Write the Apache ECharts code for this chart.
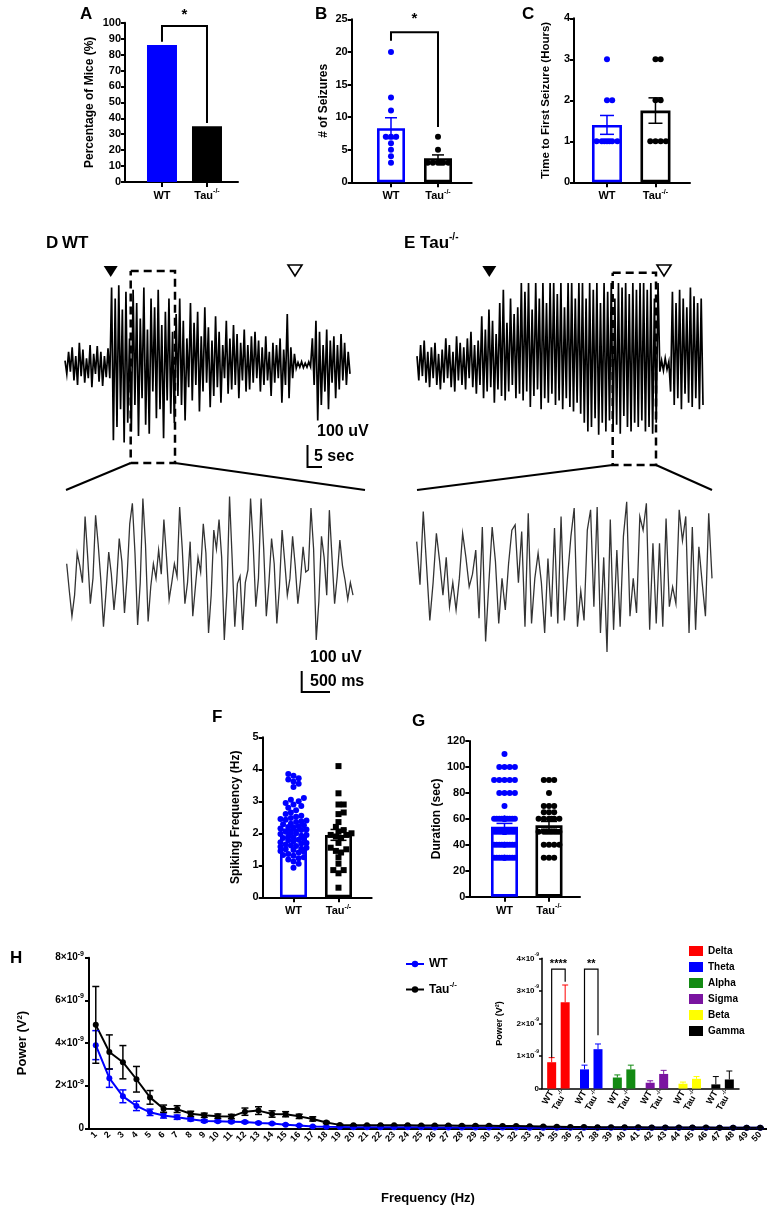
<!DOCTYPE html>
<html>
<head>
<meta charset="utf-8">
<script src="https://cdn.jsdelivr.net/npm/echarts@6/dist/echarts.min.js"></script>
<style>html,body{margin:0;padding:0;background:#fff}#main{width:767px;height:1222px}</style>
</head>
<body>
<div id="main"></div>
<script>
// ---- data ----
const groups = ['WT', 'Tau']
const seizurePct = [86, 35]

const seizureMean = [8.3, 3.7]
const seizureSem = [1.6, 0.5]
const seizuresWt = [20, 13, 11, 7, 7, 7, 6, 5, 4, 3]
const seizuresTau = [7, 5, 3, 3, 3, 3, 3, 3]

const firstMean = [1.4, 1.75]
const firstSem = [0.23, 0.31]
const firstWt = [3, 2, 2, 1, 1, 1, 1, 1, 1, 1]
const firstTau = [3, 3, 2, 2, 1, 1, 1, 1]

const spikeMean = [2.15, 1.95]
const spikeSem = [0.08, 0.17]
const spikeWt = [3.85, 3.8, 3.72, 3.68, 3.62, 3.55, 3.45, 3.1, 3.05, 3.0, 2.95, 2.9, 2.85, 2.8, 2.72, 2.65, 2.6, 2.55, 2.52, 2.48,
  2.45, 2.42, 2.4, 2.38, 2.35, 2.3, 2.28, 2.25, 2.22, 2.2, 2.18, 2.15, 2.12, 2.1, 2.05, 2.02, 2.0, 1.98, 1.95, 1.92,
  1.9, 1.88, 1.85, 1.82, 1.8, 1.78, 1.75, 1.72, 1.7, 1.68, 1.65, 1.62, 1.6, 1.58, 1.55, 1.52, 1.5, 1.48, 1.45, 1.42,
  1.4, 1.35, 1.32, 1.3, 1.25, 1.22, 1.18, 1.12, 1.05, 0.92]
const spikeTau = [4.1, 3.25, 2.9, 2.9, 2.65, 2.6, 2.35, 2.2, 2.1, 2.05, 2.0, 1.95, 1.95, 1.9, 1.85, 1.7, 1.55, 1.5, 1.45, 1.4,
  1.25, 1.05, 0.85, 0.85, 0.75, 0.3]

const durMean = [54, 55]
const durSem = [2.5, 3]
const durWt = [110, 100, 100, 100, 100, 90, 90, 90, 90, 90, 80, 80, 80, 80, 70,
  60, 60, 60, 60, 60, 60, 60, 60, 60, 60, 60, 60, 60, 60,
  50, 50, 50, 50, 50, 50, 50, 50, 50, 50, 50, 50, 50, 50, 50, 50,
  40, 40, 40, 40, 40, 40, 40, 40, 40, 40,
  30, 30, 30, 30, 30, 30, 30, 30, 30, 30, 30]
const durTau = [90, 90, 90, 80, 70, 70, 70, 65, 65, 65, 60, 60, 60, 60, 60, 60,
  50, 50, 50, 50, 50, 50, 50, 50, 40, 40, 40, 40, 30, 30, 30]

// EEG traces (uV, peaks/troughs)
const traceWt = [20, -40, 60, -30, 80, -70, 40, -90, 100, -50, 70, -80, 30, -60, 90, -100, 50, -40, 85, -75, 60, -95, 40, -55, 75, -60,
  350, -340, 300, -280, 360, -200, 250, -350, 330, -260, 120, -300, 340, -180, 280, -320, 210, -150, 350, -270, 160, -310, 300, -120, 260, -240, 340, -200, 180, -330, 240, -160, 300, -220, 150, -260, 230,
  -140, 300, -180, 200, -250, 120, -100, 280, -160, 190, -90, 240, -210, 130, -120, 260, -80, 170, -190, 110, -140, 220, -100, 150, -170, 90, -60, 200, -130, 120, -110, 180, -90, 140, -150, 100, -70, 160, -120, 90, -110, 130, -80,
  150, -60, 110, -120, 80, -90, 130, -70, 60, -140, 100, -80, 90, -60, 120, -170, 70, -90, 230, -150, 80, -60, 50,
  -15, 12, -10, 15, -12, 8, -10, 14, -8,
  120, -90, 200, -250, 150, -180, 90, -120, 160, -200, 110, -80, 130, -150, 90, -110, 140, -70, 100, -90, 60, -40]
const traceTau = [40, -70, 90, -50, 110, -80, 60, -100, 80, -60, 100, -90, 50, -110, 70, -80, 120, -60, 90, -100, 60, -120, 130, -70, 100, -90, 80, -110, 120, -60, 150, -100, 90, -130, 110,
  -90, 220, -150, 160, -120, 250, -100, 200, -170, 140, -110, 280, -140, 340, -160, 190, -120, 300, -90, 230, -150, 260, -130,
  370, -160, 330, -120, 370, -190, 250, -140, 370, -110, 300, -200, 370, -150, 280, -170, 370, -130, 370, -180, 320, -160, 370, -200, 260, -150, 370, -190, 370, -210, 300, -170, 370, -220,
  370, -260, 300, -300, 370, -280, 340, -240, 370, -315, 280, -260, 370, -300, 330, -250, 370, -290, 300, -270, 370, -310, 350, -230, 370, -280, 320, -300, 370, -260, 340, -280, 370, -250,
  370, -300, 340, -280, 370, -310, 300, -260, 370,
  -30, 20, -25, 30, -20, 15,
  -120, 330, -180, 280, -150, 340, -200, 300, -130, 260, -170, 350, -190, 310, -150, 280, -200, 300, -180]
const zoomWt = [30, -100, -220, -120, 80, 20, -60, 255, 60, -160, -40, 260, 120, -50, -270, -100, 85, -20, -190, -60,
  150, 40, -205, -30, 220, 318, 80, -262, -60, 340, 120, -245, -80, 30, -40, 95, -20, 240, 60, -140,
  -60, 30, -30, 300, 100, -160, -60, 135, -220, -80, 60, -10, 220, 80, -300, -120, 190, 100, 240, 60,
  -333, -100, 350, 50, -270, -65, -30, -285, -60, 0, 340, 120, -175, -40, 340, 100, -220, -60, 150, 30,
  -255, -80, 190, 40, -120, -40, 160, 20, -160, -50, 110, -10, 0, 295, 100, -333, -150, 160, 60, -120,
  285, 60, -160, -30, 143, 20, -50, -140, -60, -120]
const zoomTau = [135, -70, 278, 20, -240, -60, 175, 40, -120, 60, -175, -60, -190, -40, 175, 60, -80, -20, 95, -230,
  205, -340, -60, 205, 40, -255, -40, -190, 30, 190, 215, -60, 183, -270, 270, -255, -40, 80, -60, -300,
  55, -222, 200, -255, 255, -240, -30, 160, 295, -270, -100, -240, 190, 287, -175, 300, -300, 60, -390, 240,
  -285, 95, -270, 160, 325, -220, -40, -205, 255, 190, 318, -285, 127, -255, 127, -270, 245, -175, -80, -160,
  287, 140, 255, -300, 205, -285, 110, -60, -220, 270, -40]

// power spectrum, units of 1e-9 V^2
const freqs = [1, 2, 3, 4, 5, 6, 7, 8, 9, 10, 11, 12, 13, 14, 15, 16, 17, 18, 19, 20, 21, 22, 23, 24, 25,
  26, 27, 28, 29, 30, 31, 32, 33, 34, 35, 36, 37, 38, 39, 40, 41, 42, 43, 44, 45, 46, 47, 48, 49, 50]
const powerWt = [3.9, 2.35, 1.5, 1.05, 0.75, 0.6, 0.52, 0.42, 0.34, 0.33, 0.31, 0.29, 0.25, 0.22, 0.17, 0.13, 0.09, 0.07, 0.06, 0.05,
  0.05, 0.05, 0.05, 0.05, 0.05, 0.04, 0.04, 0.04, 0.04, 0.04, 0.04, 0.04, 0.03, 0.03, 0.03, 0.03, 0.03, 0.03, 0.03, 0.03,
  0.03, 0.03, 0.03, 0.03, 0.03, 0.02, 0.02, 0.02, 0.02, 0.02]
const semWt = [0.68, 0.43, 0.3, 0.22, 0.15, 0.12, 0.1, 0.07, 0.06, 0.05, 0.05, 0.05, 0.04, 0.04, 0.03, 0.03, 0.02, 0.02, 0.02, 0.02,
  0.01, 0.01, 0.01, 0.01, 0.01, 0.01, 0.01, 0.01, 0.01, 0.01, 0.01, 0.01, 0.01, 0.01, 0.01, 0.01, 0.01, 0.01, 0.01, 0.01,
  0.01, 0.01, 0.01, 0.01, 0.01, 0.01, 0.01, 0.01, 0.01, 0.01]
const powerTau = [4.85, 3.58, 3.1, 2.3, 1.45, 0.92, 0.9, 0.68, 0.61, 0.57, 0.55, 0.78, 0.83, 0.67, 0.66, 0.56, 0.44, 0.27, 0.16, 0.14,
  0.14, 0.14, 0.14, 0.14, 0.13, 0.13, 0.13, 0.12, 0.12, 0.12, 0.11, 0.11, 0.1, 0.08, 0.07, 0.06, 0.06, 0.05, 0.05, 0.05,
  0.05, 0.04, 0.04, 0.04, 0.04, 0.04, 0.03, 0.03, 0.03, 0.03]
const semTau = [1.8, 0.8, 0.78, 0.6, 0.32, 0.17, 0.16, 0.12, 0.1, 0.1, 0.1, 0.17, 0.18, 0.15, 0.12, 0.1, 0.1, 0.05, 0.03, 0.03,
  0.02, 0.02, 0.02, 0.02, 0.02, 0.02, 0.02, 0.02, 0.02, 0.02, 0.02, 0.02, 0.02, 0.02, 0.02, 0.02, 0.02, 0.02, 0.02, 0.02,
  0.02, 0.02, 0.02, 0.02, 0.02, 0.02, 0.02, 0.02, 0.02, 0.02]

const bands = ['Delta', 'Theta', 'Alpha', 'Sigma', 'Beta', 'Gamma']
const bandWt = [0.81, 0.59, 0.34, 0.18, 0.15, 0.13]
const bandWtSem = [0.14, 0.13, 0.08, 0.06, 0.05, 0.24]
const bandTau = [2.65, 1.21, 0.59, 0.45, 0.30, 0.28]
const bandTauSem = [0.53, 0.16, 0.13, 0.11, 0.07, 0.26]

// ---- styling ----
const FONT = "'Liberation Sans', Arial, Helvetica, sans-serif"
const BLUE = '#0000ff'
const bandColors = ['#ff0000', '#0000ff', '#138a13', '#7a14a0', '#ffff00', '#000000']
const groupColors = [BLUE, '#000']

function supRich (size) {
  return {
    b: { fontFamily: FONT, fontWeight: 'bold', fontSize: size, color: '#000', lineHeight: size + 5 },
    s: { fontFamily: FONT, fontWeight: 'bold', fontSize: Math.round(size * 0.65), color: '#000', lineHeight: Math.round(size * 0.7), verticalAlign: 'top' }
  }
}
const groupLabel = v => (v === 0 ? '{b|WT}' : '{b|Tau}{s|-/-}')
const sciLabel = v => (v === 0 ? '{b|0}' : '{b|' + v + '×10}{s|-9}')

function yVal (gi, max, interval, name, gap, fs) {
  return {
    gridIndex: gi, type: 'value', min: 0, max, interval,
    name, nameLocation: 'middle', nameGap: gap,
    nameTextStyle: { fontFamily: FONT, fontWeight: 'bold', fontSize: fs || 12, color: '#000' },
    axisLine: { show: true, onZero: false, lineStyle: { color: '#000', width: 2 } },
    axisTick: { show: true, length: 4, lineStyle: { color: '#000', width: 2 } },
    axisLabel: { fontFamily: FONT, fontWeight: 'bold', fontSize: 11, color: '#000', margin: 4 },
    splitLine: { show: false }
  }
}
function xGroups (gi, min, max) {
  return {
    gridIndex: gi, type: 'value', min, max,
    axisLine: { show: true, onZero: false, lineStyle: { color: '#000', width: 2 } },
    axisTick: { show: true, length: 5, customValues: [0, 1], lineStyle: { color: '#000', width: 2 } },
    axisLabel: { customValues: [0, 1], formatter: groupLabel, rich: supRich(11), margin: 6 },
    splitLine: { show: false }
  }
}
function hidden (gi, type, extra) {
  return Object.assign({ gridIndex: gi, type, show: false, splitLine: { show: false } }, extra)
}

// spread dots sideways so they do not overlap (pixel offsets)
function swarm (vals, unitPx, diam, half) {
  const order = vals.map((v, i) => i).sort((a, b) => vals[a] - vals[b])
  const placed = []
  const off = vals.map(() => 0)
  const step = diam / 2
  for (const i of order) {
    const y = vals[i] * unitPx
    let best = 0
    let bestD = -1
    let done = false
    for (let k = 0; k * step <= half && !done; k++) {
      for (const dx of (k ? [k * step, -k * step] : [0])) {
        let m = Infinity
        for (const p of placed) m = Math.min(m, Math.hypot(p[0] - dx, p[1] - y))
        if (m >= diam) { best = dx; done = true; break }
        if (m > bestD) { bestD = m; best = dx }
      }
    }
    off[i] = best
    placed.push([best, y])
  }
  return off
}
function dots (ax, x, vals, color, unitPx, half, symbol) {
  const off = swarm(vals, unitPx, 5.2, half)
  return {
    type: 'scatter', xAxisIndex: ax, yAxisIndex: ax, symbol: symbol || 'circle', symbolSize: 6, z: 4,
    itemStyle: { color, opacity: 1 },
    data: vals.map((v, i) => ({ value: [x, v], symbolOffset: [off[i], 0] }))
  }
}
function hollowBars (ax, means, width) {
  return {
    type: 'bar', xAxisIndex: ax, yAxisIndex: ax, barWidth: width,
    data: means.map((m, i) => ({ value: [i, m], itemStyle: { color: 'rgba(0,0,0,0)', borderColor: groupColors[i], borderWidth: 2.6 } }))
  }
}
function errBars (ax, rows, colorOf, cap, opts) {
  opts = opts || {}
  return {
    type: 'custom', xAxisIndex: ax, yAxisIndex: ax, z: 6, silent: true,
    encode: { x: 0, y: [1, 2] },
    data: rows,
    renderItem (params, api) {
      const x = api.value(0)
      const a = api.coord([x, api.value(2)])
      const b = api.coord([x, api.value(1)])
      const cx = a[0] + (opts.shift || 0)
      const w = cap / 2
      const st = { stroke: colorOf(params.dataIndex), lineWidth: opts.width || 1.5 }
      const ch = [
        { type: 'line', shape: { x1: cx, y1: a[1], x2: cx, y2: b[1] }, style: st },
        { type: 'line', shape: { x1: cx - w, y1: a[1], x2: cx + w, y2: a[1] }, style: st }
      ]
      if (!opts.oneSided) ch.push({ type: 'line', shape: { x1: cx - w, y1: b[1], x2: cx + w, y2: b[1] }, style: st })
      return { type: 'group', children: ch }
    }
  }
}
const twoSided = (means, sems) => means.map((m, i) => [i, m - sems[i], m + sems[i]])
function trace (ax, vals, color, width) {
  return {
    type: 'line', xAxisIndex: ax, yAxisIndex: ax, data: vals, showSymbol: false, silent: true,
    lineStyle: { color, width, join: 'miter' }
  }
}

const grids = [
  { left: 125, top: 22.7, width: 113, height: 159.3 }, // A
  { left: 351.7, top: 19.3, width: 120, height: 163 }, // B
  { left: 574, top: 18.3, width: 116, height: 164 }, // C
  { left: 65, top: 283, width: 285, height: 164 }, // D trace
  { left: 417, top: 283, width: 286, height: 164 }, // E trace
  { left: 66.7, top: 486, width: 286.3, height: 168 }, // D zoom
  { left: 416.7, top: 486, width: 295.3, height: 168 }, // E zoom
  { left: 262.7, top: 737.3, width: 109, height: 160 }, // F
  { left: 469.3, top: 741, width: 110.7, height: 155.7 }, // G
  { left: 89, top: 957.7, width: 678, height: 170.6 }, // H
  { left: 542, top: 958.3, width: 197, height: 130.3 } // H inset
]

const xAxes = [
  xGroups(0, -0.822, 1.689),
  xGroups(1, -0.836, 1.717),
  xGroups(2, -0.68, 1.712),
  hidden(3, 'category', { data: traceWt.map((v, i) => i), boundaryGap: false }),
  hidden(4, 'category', { data: traceTau.map((v, i) => i), boundaryGap: false }),
  hidden(5, 'category', { data: zoomWt.map((v, i) => i), boundaryGap: false }),
  hidden(6, 'category', { data: zoomTau.map((v, i) => i), boundaryGap: false }),
  xGroups(7, -0.684, 1.738),
  xGroups(8, -0.791, 1.697),
  {
    gridIndex: 9, type: 'category', data: freqs,
    name: 'Frequency (Hz)', nameLocation: 'middle', nameGap: 64,
    nameTextStyle: { fontFamily: FONT, fontWeight: 'bold', fontSize: 13, color: '#000' },
    axisLine: { lineStyle: { color: '#000', width: 2 } },
    axisTick: { alignWithLabel: true, interval: 0, length: 4, lineStyle: { color: '#000', width: 1.5 } },
    axisLabel: { interval: 0, rotate: 45, fontFamily: FONT, fontWeight: 'bold', fontSize: 9, color: '#000', margin: 5 }
  },
  {
    gridIndex: 10, type: 'category', data: bands,
    axisLine: { lineStyle: { color: '#000', width: 1.5 } },
    axisTick: { show: false }, axisLabel: { show: false }
  }
]
const yAxes = [
  yVal(0, 100, 10, 'Percentage of Mice (%)', 29),
  yVal(1, 25, 5, '# of Seizures', 22),
  yVal(2, 4, 1, 'Time to First Seizure (Hours)', 22, 11.5),
  hidden(3, 'value', { min: -370, max: 370 }),
  hidden(4, 'value', { min: -370, max: 370 }),
  hidden(5, 'value', { min: -400, max: 400 }),
  hidden(6, 'value', { min: -400, max: 400 }),
  yVal(7, 5, 1, 'Spiking Frequency (Hz)', 21),
  yVal(8, 120, 20, 'Duration (sec)', 27),
  Object.assign(yVal(9, 8, 2, 'Power (V²)', 60, 13), {
    axisLabel: { formatter: sciLabel, rich: supRich(10), margin: 5 }
  }),
  Object.assign(yVal(10, 4, 1, 'Power (V²)', 38, 9), {
    axisLine: { show: true, onZero: false, lineStyle: { color: '#000', width: 1.5 } },
    axisTick: { show: true, length: 3, lineStyle: { color: '#000', width: 1.5 } },
    axisLabel: { formatter: sciLabel, rich: supRich(8), margin: 3 }
  })
]

const bandLabel = (text) => ({
  show: true, position: 'bottom', distance: 3, rotate: 60, align: 'right', verticalAlign: 'middle',
  formatter: text, rich: supRich(9)
})

const series = [
  // A
  {
    type: 'bar', xAxisIndex: 0, yAxisIndex: 0, barWidth: 30,
    data: seizurePct.map((v, i) => ({ value: [i, v], itemStyle: { color: groupColors[i] } }))
  },
  // B
  hollowBars(1, seizureMean, 28),
  dots(1, 0, seizuresWt, BLUE, 163 / 25, 12),
  dots(1, 1, seizuresTau, '#000', 163 / 25, 13),
  errBars(1, twoSided(seizureMean, seizureSem), i => groupColors[i], 12),
  // C
  hollowBars(2, firstMean, 30),
  dots(2, 0, firstWt, BLUE, 41, 13),
  dots(2, 1, firstTau, '#000', 41, 13),
  errBars(2, twoSided(firstMean, firstSem), i => groupColors[i], 14),
  // D / E traces
  trace(3, traceWt, '#000', 1.7),
  trace(4, traceTau, '#000', 1.7),
  trace(5, zoomWt, '#333', 1.3),
  trace(6, zoomTau, '#333', 1.3),
  // F
  hollowBars(7, spikeMean, 27),
  dots(7, 0, spikeWt, BLUE, 32, 13),
  dots(7, 1, spikeTau, '#000', 32, 13, 'rect'),
  errBars(7, twoSided(spikeMean, spikeSem), i => groupColors[i], 16),
  // G
  hollowBars(8, durMean, 27),
  dots(8, 0, durWt, BLUE, 155.7 / 120, 12),
  dots(8, 1, durTau, '#000', 155.7 / 120, 12),
  errBars(8, twoSided(durMean, durSem), i => groupColors[i], 16),
  // H
  errBars(9, twoSided(powerWt, semWt), () => BLUE, 7),
  errBars(9, twoSided(powerTau, semTau), () => '#000', 7),
  {
    name: 'WT', type: 'line', xAxisIndex: 9, yAxisIndex: 9, data: powerWt,
    symbol: 'circle', symbolSize: 6, color: BLUE, lineStyle: { width: 2 }
  },
  {
    name: 'Tau', type: 'line', xAxisIndex: 9, yAxisIndex: 9, data: powerTau,
    symbol: 'circle', symbolSize: 6, color: '#000', lineStyle: { width: 2 }
  },
  // inset
  {
    name: 'WT bands', type: 'bar', xAxisIndex: 10, yAxisIndex: 10, barWidth: 9, barGap: '50%',
    label: bandLabel('{b|WT}'),
    data: bandWt.map((v, i) => ({ value: v, itemStyle: { color: bandColors[i] } }))
  },
  {
    name: 'Tau bands', type: 'bar', xAxisIndex: 10, yAxisIndex: 10, barWidth: 9, barGap: '50%',
    label: bandLabel('{b|Tau}{s|-/-}'),
    data: bandTau.map((v, i) => ({ value: v, itemStyle: { color: bandColors[i] } }))
  },
  errBars(10, bandWt.map((m, i) => [i, m, m + bandWtSem[i]]), i => bandColors[i], 6, { shift: -6.75, oneSided: true, width: 1 }),
  errBars(10, bandTau.map((m, i) => [i, m, m + bandTauSem[i]]), i => bandColors[i], 6, { shift: 6.75, oneSided: true, width: 1 })
].concat(bands.map((b, i) => ({
  name: b, type: 'scatter', xAxisIndex: 10, yAxisIndex: 10, data: [], itemStyle: { color: bandColors[i], opacity: 1 }
})))

const option = {
  animation: false,
  backgroundColor: '#fff',
  textStyle: { fontFamily: FONT },
  grid: grids,
  xAxis: xAxes,
  yAxis: yAxes,
  legend: [
    {
      data: ['WT', 'Tau'], left: 400, top: 953, orient: 'vertical', itemGap: 11, itemWidth: 18, itemHeight: 8,
      selectedMode: false,
      formatter: n => (n === 'Tau' ? '{b|Tau}{s|-/-}' : '{b|WT}'),
      textStyle: { rich: supRich(12) }
    },
    {
      data: bands, left: 684, top: 941, orient: 'vertical', icon: 'rect', itemGap: 6, itemWidth: 14, itemHeight: 10,
      selectedMode: false,
      itemStyle: { opacity: 1 },
      textStyle: { fontFamily: FONT, fontWeight: 'bold', fontSize: 10, color: '#000' }
    }
  ],
  series
}

// significance brackets (data units of each panel)
const brackets = [
  { ax: 0, x1: 0, x2: 1, yl: 88, yt: 98, yr: 37, text: '*', ty: 105, fs: 15, lw: 2 },
  { ax: 1, x1: 0, x2: 1, yl: 21.7, yt: 23, yr: 8.5, text: '*', ty: 25, fs: 15, lw: 2 },
  { ax: 10, x1: 0, x2: 0, dx1: -6.75, dx2: 6.75, yl: 0.95, yt: 3.67, yr: 3.28, text: '****', ty: 3.84, fs: 11, lw: 1.2 },
  { ax: 10, x1: 1, x2: 1, dx1: -6.75, dx2: 6.75, yl: 0.79, yt: 3.67, yr: 1.64, text: '**', ty: 3.84, fs: 11, lw: 1.2 }
]

const txt = (x, y, text, size, extra) => ({
  type: 'text', x, y, z: 100,
  style: Object.assign({ text, fontFamily: FONT, fontWeight: 'bold', fontSize: size, fill: '#000', align: 'left', verticalAlign: 'middle' }, extra || {})
})
const tri = (x, y, filled) => ({
  type: 'polygon', z: 100,
  shape: { points: [[x - 7, y - 5], [x + 7, y - 5], [x, y + 6]] },
  style: filled ? { fill: '#000' } : { fill: '#fff', stroke: '#000', lineWidth: 1.6 }
})
const poly = (pts, lw, dash) => ({
  type: 'polyline', z: 100, shape: { points: pts },
  style: { stroke: '#000', lineWidth: lw, fill: null, lineDash: dash || null }
})
const bigRich = {
  b: { fontFamily: FONT, fontWeight: 'bold', fontSize: 17, lineHeight: 22 },
  s: { fontFamily: FONT, fontWeight: 'bold', fontSize: 10, lineHeight: 12, verticalAlign: 'top' }
}

const decor = [
  txt(80, 14, 'A', 17), txt(315, 14, 'B', 17), txt(522, 14, 'C', 17),
  txt(46, 243, 'D', 17), txt(62, 243, 'WT', 17),
  txt(404, 243, '{b|E Tau}{s|-/-}', 17, { rich: bigRich }),
  txt(212, 717, 'F', 17), txt(412, 721, 'G', 17), txt(10, 958, 'H', 17),
  tri(110.7, 271, true), tri(295, 270, false), tri(489.3, 271, true), tri(664, 270, false),
  poly([[130.7, 271], [175, 271], [175, 463], [130.7, 463], [130.7, 271]], 2.5, [8, 5]),
  poly([[612.7, 272.7], [656, 272.7], [656, 465], [612.7, 465], [612.7, 272.7]], 2.5, [8, 5]),
  poly([[130.7, 463], [66, 490]], 2), poly([[175, 463], [365, 490]], 2),
  poly([[612.7, 465], [417, 490]], 2), poly([[656, 465], [712, 490]], 2),
  poly([[307.5, 445], [307.5, 467], [322, 467]], 2),
  txt(317, 432, '100 uV', 16), txt(314, 457, '5 sec', 16),
  poly([[301.7, 671], [301.7, 692], [330, 692]], 2),
  txt(310, 658, '100 uV', 16), txt(310, 682, '500 ms', 16)
]

const chart = echarts.init(document.getElementById('main'))
chart.setOption(option)

const marks = []
brackets.forEach(b => {
  const px = (x, y) => chart.convertToPixel({ xAxisIndex: b.ax, yAxisIndex: b.ax }, [x, y])
  const l = px(b.x1, b.yl); const lt = px(b.x1, b.yt)
  const r = px(b.x2, b.yr); const rt = px(b.x2, b.yt)
  const dx1 = b.dx1 || 0; const dx2 = b.dx2 || 0
  marks.push(poly([[l[0] + dx1, l[1]], [lt[0] + dx1, lt[1]], [rt[0] + dx2, rt[1]], [r[0] + dx2, r[1]]], b.lw))
  const t = px(b.x1, b.ty)
  marks.push(txt((lt[0] + dx1 + rt[0] + dx2) / 2, t[1], b.text, b.fs, { align: 'center' }))
})
chart.setOption({ graphic: decor.concat(marks) })
</script>
</body>
</html>
